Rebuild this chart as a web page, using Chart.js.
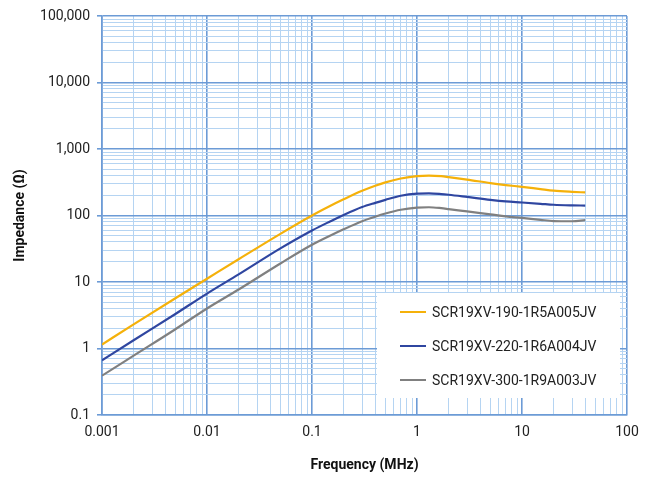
<!DOCTYPE html>
<html>
<head>
<meta charset="utf-8">
<script src="https://cdn.jsdelivr.net/npm/chart.js@4.4.1/dist/chart.umd.min.js"></script>
<style>
  html, body { margin: 0; padding: 0; background: #ffffff; }
  #wrap { width: 653px; height: 479px; position: relative; }
</style>
</head>
<body>
<div id="wrap"><canvas id="c"></canvas></div>
<script>
// ---- data ----
const frequencyMHz = [0.001, 0.002, 0.005, 0.01, 0.02, 0.05, 0.1, 0.15, 0.2, 0.3, 0.4, 0.5, 0.7, 1, 1.3, 1.7, 2, 3, 5, 7, 10, 15, 20, 30, 40];
const seriesLabels = ['SCR19XV-190-1R5A005JV', 'SCR19XV-220-1R6A004JV', 'SCR19XV-300-1R9A003JV'];
const z190 = [1.15, 2.3, 5.7, 11.2, 22, 53, 100, 140, 175, 235, 280, 315, 360, 392, 398, 390, 378, 347, 307, 287, 270, 250, 237, 227, 222];
const z220 = [0.665, 1.33, 3.3, 6.7, 13, 32, 59.5, 82, 102, 134, 155, 172, 198, 213, 215, 210, 205, 190, 172, 163, 157, 150, 145, 142, 141];
const z300 = [0.39, 0.78, 1.95, 4.0, 7.7, 19, 36.3, 50, 62, 82, 96, 107, 122, 131, 133, 129, 125, 115, 104, 97, 92, 86, 82.5, 82, 85];
const xTickLabels = ['0.001', '0.01', '0.1', '1', '10', '100'];
const yTickLabels = ['0.1', '1', '10', '100', '1,000', '10,000', '100,000'];
const seriesColors = ['#f5b10a', '#2f46a0', '#808080'];

const FONT = 'Roboto, "Noto Sans", sans-serif';
const MAJOR = '#6c9bd6';
const MINOR = '#b5d4f2';

function isMajor(v) {
  const l = Math.log10(v);
  return Math.abs(l - Math.round(l)) < 1e-9;
}
function logTicks(min, max) {
  const out = [];
  const e0 = Math.round(Math.log10(min)), e1 = Math.round(Math.log10(max));
  for (let e = e0; e <= e1; e++) {
    for (let m = 1; m <= 9; m++) {
      const v = Number((m * Math.pow(10, e)).toPrecision(6));
      if (v >= min - 1e-12 && v <= max + 1e-9) out.push({ value: v });
      if (e === e1) break;
    }
  }
  return out;
}
function labelFor(v, labels) {
  if (!isMajor(v)) return '';
  const hit = labels.find(s => Math.abs(parseFloat(s.replace(/,/g, '')) - v) < 1e-9 * Math.max(1, v));
  return hit || '';
}
function pts(ys) { return frequencyMHz.map((f, i) => ({ x: f, y: ys[i] })); }

const series = [z190, z220, z300];
const datasets = series.map((ys, i) => ({
  label: seriesLabels[i],
  data: pts(ys),
  borderColor: seriesColors[i],
  backgroundColor: seriesColors[i],
  borderWidth: 2.2,
  pointRadius: 0,
  cubicInterpolationMode: 'monotone',
  fill: false
}));

const legendPlugin = {
  id: 'boxLegend',
  afterDatasetsDraw(chart) {
    const ctx = chart.ctx;
    const ca = chart.chartArea;
    const x0 = ca.left + 275, y0 = ca.top + 277, w = 243, h = 105;
    ctx.save();
    ctx.fillStyle = '#ffffff';
    ctx.fillRect(x0, y0, w, h);
    ctx.font = '14px ' + FONT;
    ctx.textBaseline = 'middle';
    chart.data.datasets.forEach((ds, i) => {
      const y = y0 + 19 + i * 34;
      ctx.strokeStyle = ds.borderColor;
      ctx.lineWidth = 2;
      ctx.beginPath();
      ctx.moveTo(x0 + 23, y);
      ctx.lineTo(x0 + 49, y);
      ctx.stroke();
      ctx.fillStyle = '#222222';
      ctx.fillText(ds.label, x0 + 55, y + 1);
    });
    ctx.restore();
  }
};

new Chart(document.getElementById('c'), {
  type: 'line',
  data: { datasets },
  plugins: [legendPlugin],
  options: {
    responsive: true,
    maintainAspectRatio: false,
    animation: false,
    layout: { padding: { left: 0, right: 26, top: 16, bottom: 0 } },
    plugins: { legend: { display: false }, tooltip: { enabled: false } },
    scales: {
      x: {
        type: 'logarithmic',
        min: 0.001, max: 100,
        afterBuildTicks: s => { s.ticks = logTicks(0.001, 100); },
        afterFit: s => { s.height = 64; },
        ticks: {
          autoSkip: false, maxRotation: 0, minRotation: 0, padding: 9,
          color: '#222222', font: { family: FONT, size: 14 },
          callback: v => labelFor(v, xTickLabels)
        },
        grid: {
          drawTicks: false,
          color: c => (c.tick && isMajor(c.tick.value)) ? MAJOR : MINOR,
          lineWidth: c => (c.tick && isMajor(c.tick.value)) ? 1.6 : 1
        },
        border: { color: MAJOR, width: 1.6 },
        title: {
          display: true, text: 'Frequency (MHz)', color: '#111111',
          font: { family: FONT, size: 14, weight: 'bold' },
          padding: { top: 4, bottom: 5 }
        }
      },
      y: {
        type: 'logarithmic',
        min: 0.1, max: 100000,
        afterBuildTicks: s => { s.ticks = logTicks(0.1, 100000); },
        afterFit: s => { s.width = 102; },
        ticks: {
          autoSkip: false, padding: 7,
          color: '#222222', font: { family: FONT, size: 14 },
          callback: v => labelFor(v, yTickLabels)
        },
        grid: {
          drawTicks: true, tickLength: 5,
          color: c => (c.tick && isMajor(c.tick.value)) ? MAJOR : MINOR,
          tickColor: c => (c.tick && isMajor(c.tick.value)) ? MAJOR : 'rgba(0,0,0,0)',
          lineWidth: c => (c.tick && isMajor(c.tick.value)) ? 1.6 : 1
        },
        border: { color: MAJOR, width: 1.6 },
        title: {
          display: true, text: 'Impedance (Ω)', color: '#111111',
          font: { family: FONT, size: 14, weight: 'bold' },
          padding: { top: 12, bottom: 4 }
        }
      }
    }
  }
});
</script>
</body>
</html>
